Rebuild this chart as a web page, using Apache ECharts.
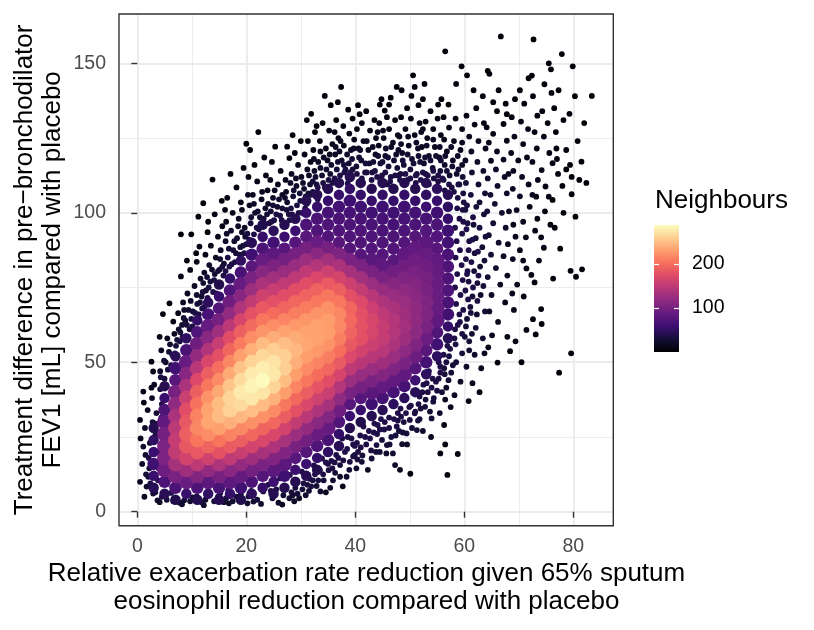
<!DOCTYPE html>
<html><head><meta charset="utf-8">
<script src="https://cdn.jsdelivr.net/npm/echarts/dist/echarts.min.js"></script>
<style>html,body{margin:0;padding:0;background:#fff}#chart{width:814px;height:630px}</style>
</head><body><div id="chart"></div>
<script>
// ---- axes / legend values ----
const xTicks = [0, 20, 40, 60, 80];
const yTicks = [0, 50, 100, 150];
const xRange = [-3.36, 87.34];
const yRange = [-4.68, 166.5];
const neighbourRange = [0, 288];
const legendTicks = [100, 200];
const xTitle = 'Relative exacerbation rate reduction given 65% sputum\neosinophil reduction compared with placebo';
const yTitle = 'Treatment difference in pre\u2212bronchodilator\nFEV1 [mL] compared with placebo';
const legendTitle = 'Neighbours';
const magma = ['#000004','#140e36','#3b0f70','#641a80','#8c2981','#b73779','#de4968','#f7705c','#fe9f6d','#fecf92','#fcfdbf'];

// ---- points: [reduction %, FEV1 mL, neighbours] ----
const coreLeft = [
[3,8,44],[3,12,57],[3,16,60],[3,20,57],[3,24,50],[3,28,41],
[5,6,45],[5,10,70],[5,14,93],[5,18,104],[5,22,103],[5,26,97],[5,30,85],[5,34,71],[5,38,56],[5,42,42],
[7,4,40],[7,8,69],[7,12,102],[7,16,133],[7,20,152],[7,24,154],[7,28,147],[7,32,135],[7,36,118],[7,40,99],[7,44,79],[7,48,61],[7,52,45],
[9,6,56],[9,10,89],[9,14,128],[9,18,165],[9,22,184],[9,26,190],[9,30,184],[9,34,176],[9,38,158],[9,42,136],[9,46,112],[9,50,89],[9,54,68],[9,58,50],
[11,4,41],[11,8,70],[11,12,107],[11,16,149],[11,20,183],[11,24,205],[11,28,216],[11,32,212],[11,36,203],[11,40,189],[11,44,171],[11,48,145],[11,52,119],[11,56,94],[11,60,72],[11,64,53],
[13,6,50],[13,10,81],[13,14,119],[13,18,161],[13,22,193],[13,26,220],[13,30,234],[13,34,233],[13,38,223],[13,42,205],[13,46,189],[13,50,168],[13,54,140],[13,58,113],[13,62,88],[13,66,66],[13,70,48],
[15,4,43],[15,8,67],[15,12,99],[15,16,137],[15,20,178],[15,24,204],[15,28,231],[15,32,248],[15,36,247],[15,40,236],[15,44,219],[15,48,200],[15,52,178],[15,56,155],[15,60,127],[15,64,99],[15,68,75],[15,72,56],[15,76,40],
[17,6,54],[17,10,81],[17,14,114],[17,18,150],[17,22,185],[17,26,213],[17,30,240],[17,34,261],[17,38,263],[17,42,253],[17,46,237],[17,50,216],[17,54,195],[17,58,176],[17,62,147],[17,66,120],[17,70,94],[17,74,72],[17,78,54]
];
const coreCentre = [
[19,4,40],[19,8,61],[19,12,87],[19,16,119],[19,20,156],[19,24,188],[19,28,216],[19,32,245],[19,36,267],[19,40,276],[19,44,267],[19,48,252],[19,52,231],[19,56,209],[19,60,190],[19,64,167],[19,68,138],[19,72,112],[19,76,88],[19,80,67],[19,84,50],
[21,6,47],[21,10,69],[21,14,97],[21,18,128],[21,22,164],[21,26,195],[21,30,221],[21,34,249],[21,38,274],[21,42,282],[21,46,276],[21,50,262],[21,54,240],[21,58,219],[21,62,197],[21,66,179],[21,70,152],[21,74,125],[21,78,101],[21,82,79],[21,86,60],[21,90,45],
[23,8,53],[23,12,75],[23,16,102],[23,20,133],[23,24,168],[23,28,193],[23,32,221],[23,36,248],[23,40,273],[23,44,286],[23,48,278],[23,52,265],[23,56,247],[23,60,224],[23,64,205],[23,68,184],[23,72,162],[23,76,136],[23,80,111],[23,84,89],[23,88,70],[23,92,53],[23,96,40],
[25,6,42],[25,10,59],[25,14,81],[25,18,107],[25,22,137],[25,26,169],[25,30,195],[25,34,218],[25,38,241],[25,42,262],[25,46,274],[25,50,272],[25,54,259],[25,58,239],[25,62,220],[25,66,199],[25,70,177],[25,74,155],[25,78,129],[25,82,104],[25,86,82],[25,90,63],[25,94,47],
[27,8,43],[27,12,60],[27,16,80],[27,20,106],[27,24,133],[27,28,163],[27,32,187],[27,36,206],[27,40,229],[27,44,247],[27,48,259],[27,52,259],[27,56,249],[27,60,232],[27,64,214],[27,68,193],[27,72,176],[27,76,150],[27,80,123],[27,84,98],[27,88,77],[27,92,58],[27,96,42],
[29,10,43],[29,14,58],[29,18,78],[29,22,100],[29,26,125],[29,30,152],[29,34,178],[29,38,196],[29,42,214],[29,46,229],[29,50,240],[29,54,245],[29,58,238],[29,62,227],[29,66,210],[29,70,195],[29,74,176],[29,78,149],[29,82,123],[29,86,99],[29,90,77],[29,94,58],[29,98,43],
[31,12,43],[31,16,58],[31,20,76],[31,24,96],[31,28,119],[31,32,145],[31,36,169],[31,40,188],[31,44,205],[31,48,219],[31,52,230],[31,56,235],[31,60,233],[31,64,224],[31,68,209],[31,72,192],[31,76,176],[31,80,151],[31,84,125],[31,88,99],[31,92,78],[31,96,70],[31,100,55],[31,104,42],
[33,14,40],[33,18,53],[33,22,71],[33,26,90],[33,30,113],[33,34,137],[33,38,161],[33,42,181],[33,46,199],[33,50,213],[33,54,226],[33,58,232],[33,62,232],[33,66,223],[33,70,207],[33,74,192],[33,78,170],[33,82,142],[33,86,114],[33,90,89],[33,94,72],[33,98,68],[33,102,55],[33,106,42]
];
const coreRight = [
[35,20,51],[35,24,68],[35,28,87],[35,32,109],[35,36,133],[35,40,157],[35,44,176],[35,48,195],[35,52,210],[35,56,223],[35,60,230],[35,64,230],[35,68,222],[35,72,206],[35,76,185],[35,80,160],[35,84,129],[35,88,99],[35,92,73],[35,96,71],[35,100,66],[35,104,55],[35,108,42],
[37,22,44],[37,26,54],[37,30,72],[37,34,94],[37,38,117],[37,42,142],[37,46,167],[37,50,186],[37,54,201],[37,58,211],[37,62,217],[37,66,216],[37,70,206],[37,74,189],[37,78,166],[37,82,136],[37,86,105],[37,90,78],[37,94,73],[37,98,69],[37,102,64],[37,106,55],[37,110,42],
[39,28,41],[39,32,57],[39,36,77],[39,40,100],[39,44,124],[39,48,149],[39,52,171],[39,56,184],[39,60,192],[39,64,196],[39,68,194],[39,72,178],[39,76,159],[39,80,132],[39,84,102],[39,88,76],[39,92,72],[39,96,70],[39,100,66],[39,104,60],[39,108,52],[39,112,42],
[41,30,40],[41,34,56],[41,38,75],[41,42,98],[41,46,121],[41,50,144],[41,54,163],[41,58,178],[41,62,179],[41,66,178],[41,70,172],[41,74,153],[41,78,129],[41,82,102],[41,86,77],[41,90,73],[41,94,71],[41,98,67],[41,102,62],[41,106,54],[41,110,42],
[43,32,42],[43,36,60],[43,40,80],[43,44,102],[43,48,124],[43,52,144],[43,56,159],[43,60,167],[43,64,167],[43,68,159],[43,72,144],[43,76,124],[43,80,102],[43,84,80],[43,88,74],[43,92,71],[43,96,68],[43,100,63],[43,104,55],[43,108,42],
[45,34,46],[45,38,65],[45,42,86],[45,46,108],[45,50,128],[45,54,144],[45,58,153],[45,62,154],[45,66,149],[45,70,137],[45,74,121],[45,78,102],[45,82,82],[45,86,75],[45,90,72],[45,94,69],[45,98,66],[45,102,60],[45,106,53],[45,110,42],
[47,36,48],[47,40,66],[47,44,86],[47,48,106],[47,52,124],[47,56,136],[47,60,142],[47,64,141],[47,68,134],[47,72,124],[47,76,110],[47,80,95],[47,84,78],[47,88,73],[47,92,70],[47,96,66],[47,100,61],[47,104,54],[47,108,42],
[49,38,48],[49,42,65],[49,46,84],[49,50,101],[49,54,116],[49,58,126],[49,62,130],[49,66,128],[49,70,124],[49,74,116],[49,78,106],[49,82,94],[49,86,82],[49,90,74],[49,94,70],[49,98,66],[49,102,61],[49,106,53],[49,110,42],
[51,40,44],[51,44,59],[51,48,76],[51,52,92],[51,56,106],[51,60,115],[51,64,118],[51,68,117],[51,72,114],[51,76,109],[51,80,102],[51,84,94],[51,88,86],[51,92,76],[51,96,69],[51,100,64],[51,104,54],[51,108,42],
[53,46,49],[53,50,64],[53,54,79],[53,58,91],[53,62,101],[53,66,105],[53,70,105],[53,74,102],[53,78,99],[53,82,94],[53,86,88],[53,90,81],[53,94,74],[53,98,67],[53,102,58],[53,106,50],[53,110,43],
[55,52,49],[55,56,61],[55,60,72],[55,64,82],[55,68,88],[55,72,90],[55,76,89],[55,80,87],[55,84,84],[55,88,79],[55,92,74],[55,96,70],[55,100,61],[55,104,55],[55,108,48],
[57,58,44],[57,62,53],[57,66,62],[57,70,68],[57,74,72],[57,78,72],[57,82,71],[57,86,68],[57,90,64],[57,94,60],[57,98,55],[57,102,49],[57,106,44]
];
const fringeLeft = [
[0.5,30.7,14],[1.1,40.2,10],[2.9,46.9,12],[2.6,50.2,8],[1.4,28,20],[2.3,23,26],[0.5,10,18],[2.9,6.1,28],[1.7,8.4,24],[2,11.7,28],[1.1,21.8,24],[0.9,16,20],[2.2,14.5,30],[3.3,6.5,33],[1.3,5,16],[1.9,34,16],[2.7,38,18],[3.5,33,26],[3.1,42.5,16],[0.6,24.5,14],[2.8,30,30],[1.5,19,26],[3.7,3.8,24],[1.2,36.5,12],
[4.7,66.1,6],[5.9,69.7,6],[6.6,63.6,10],[7.5,66.4,10],[4.2,47,24],[5.2,50,22],[4.4,54,16],[6,56,24],[6.8,59.5,18],[7.6,61,22],[5,44.5,32],[6.2,49,34],[7.1,55.5,32],[5.5,58,14],[4.1,58.5,10],[7.8,57,34],[4.5,5,32],[5.4,4,30],[6.6,3.5,28],[7.8,3,26],[4.1,3.2,20],
[8,92.8,4],[9.9,92.8,4],[11.2,98.7,4],[12.1,103.2,4],[8,78.7,8],[9.7,80.9,10],[10.9,83.6,10],[11.4,88.7,8],[8.4,70,18],[9.2,73,16],[10.5,75.5,18],[11.6,78,20],[8.8,64,30],[9.6,61,34],[10.2,67,28],[11,69.5,30],[11.8,72,26],[8.2,62.5,26],[9.9,64.5,34],[11.3,66,36],[8.6,67.5,22],[10.8,86.5,6],[9.1,84,6],[9.7,3.5,26],[10.9,5.1,30],[8.6,3.8,28],[11.8,3.2,26],
[13,97,5],[12.9,93.5,6],[13.8,111.1,3],[15.5,104,5],[14.2,99.5,8],[12.5,86,12],[13.5,89,10],[14.8,92,12],[15.6,95.5,10],[12.3,80,20],[13.2,82.5,22],[14.4,85,18],[15.3,87.5,20],[12.6,74,30],[13.4,77,32],[14.2,79.5,28],[15.1,81,30],[15.9,83,26],[12.1,76.5,26],[14.7,76,36],[13.9,73.5,38],[15.8,79,36],[12.9,71.5,36],[13,6.2,32],[15.2,6.2,32],[14.1,3.5,28],[12.5,4,26],[15.9,3.2,24],
[2.4,9.5,34],[3.8,10.5,38],[2.1,18,34],[3.9,26.5,36],[4.4,31.5,36],[4.5,36,34],[3.3,25.5,32],[4.2,41,30],[2.6,41.5,16],[3.4,29.5,34],[1.6,12.5,30],[3.9,14.5,38],[4.1,20,38],[2.8,16,36],
[4.3,45,36],[5.6,47.5,34],[6.4,52.5,36],[7.3,57.5,30],[4.9,50.5,28],[6.9,53,38],[5.8,53.5,26],[7.9,60,28],
[8.3,58.5,36],[9.1,62.5,32],[10.1,62,38],[10.6,66.5,34],[11.5,70,30],[9.4,67.5,28],[8.5,64.8,30],[10.9,72.5,24],[11.9,68,38],[9.8,70.5,22],
[12.3,68.5,38],[13.1,75,34],[14.1,77.5,34],[14.8,80.5,30],[15.6,82,32],[12.8,78.5,28],[13.7,81,24],[15.2,84.5,26],[12,73.5,32],[14.5,73,38],
[8.2,2.5,24],[12.2,2.2,22],[16.8,2.8,24],[22.7,2.6,22],[26.6,2.4,18],[14.8,5,34],[18.2,5,34],[10.2,4.8,32],[6.2,6.3,36],[24.5,7,32]
];
const fringeCentre = [
[17.1,113,3],[19.5,115,4],[18.2,108.5,6],[16.5,105,8],[19,103.5,10],[17.5,100,12],[16.3,97,14],[18.6,98,16],[19.7,95,18],[17.2,94,22],[16.2,90.5,24],[18.3,91.5,24],[19.4,89,28],[17.6,87.5,30],[16.6,85,34],[18.8,86,34],[19.8,92,22],[16.9,82,38],[17.9,83.5,36],[19.2,101,12],[16.1,101,10],[16.7,7.3,34],[18.5,8.4,34],[20.2,2.8,24],[20.4,5.1,30],[17.5,3.5,26],[19,5.8,30],[16.3,4.5,28],
[16.2,80.5,38],[17.3,82.8,36],[18.1,86.5,32],[18.9,88.5,30],[19.6,86.5,36],[16.8,88,28],[17.8,90.5,26],[19.2,93.5,24],[16.4,93,20],[18.5,95.5,20],[20,89.5,34],
[22.2,127,3],[20,123.1,4],[20.7,121,4],[21.5,116,6],[23.3,118.5,6],[20.4,112,10],[22,110.5,10],[23.6,112.5,10],[21.2,106,14],[22.8,104.5,16],[20.6,102.5,18],[23.9,107.5,14],[21.6,100,24],[22.5,98.5,28],[20.8,96.5,30],[23.5,101.5,22],[20.2,93,34],[21.9,95,36],[23.2,98,34],[24,103,20],[23.1,6.8,36],[22,4,30],[24,9,36],[21.3,3.4,26],[20.9,7,32],
[20.5,91,36],[21.4,92.8,36],[22.3,94.5,34],[23.1,95.5,36],[20.9,98.5,28],[22.1,100.5,26],[23.8,99.5,30],[21.4,103,20],[22.9,107,16],[20.3,106,16],[24.2,96.5,36],
[25.3,122.1,4],[27.5,122.1,4],[27.9,118.3,6],[24.7,117,6],[26.3,114,10],[24.4,111,12],[25.8,109.5,14],[27.2,111,12],[26.6,106,18],[24.9,105,20],[25.7,102,26],[27.5,103.5,24],[24.5,100.5,30],[26.2,99,34],[27.8,99.5,32],[26.9,96,38],[25.1,97.5,36],[27.3,107,16],[26.2,11.2,36],[25.5,7.5,34],[27.2,8,34],[24.8,4.5,28],[26.8,5.5,28],[25.9,3,22],[27.9,4.5,26],
[24.6,97,36],[25.5,99.5,34],[26.5,97.5,38],[27.4,101,30],[24.9,102.5,28],[26,104.5,24],[27.1,105,22],[25.2,107.5,18],[27.9,97.5,36],[26.6,101.5,30],
[31.9,133.1,3],[31.1,131,4],[32.9,129,5],[28.5,126,5],[30,124,6],[31.3,124,6],[28.9,120,8],[30.7,119.5,10],[29.5,116,12],[31.8,117,12],[28.3,113,16],[30.1,112,16],[31.5,112.5,18],[29.2,109,22],[30.6,108,24],[28.6,105.5,28],[29.9,104,32],[31.4,106.5,28],[28.2,101.5,34],[30.8,101.5,34],[29.6,100,36],[31.7,109.5,24],[28,12.3,36],[30.2,13.4,36],[29,8,32],[28.5,5.5,26],[30.5,9.5,34],[31.5,7,28],[29.7,4.5,20],[31.6,11,34],
[28.4,99.5,38],[29.3,102.5,34],[30.2,100,38],[31.1,103,36],[28.7,107.5,26],[29.8,106.5,28],[30.9,105.5,32],[31.9,106,34],[29.1,111.5,20],[30.4,110,22],[31.2,114.5,18],[28.1,110,22],
[28.3,6.5,30],[29.4,6,30],[30.3,7.5,32],[31.2,9,34],[30.9,5.5,24],[28.8,3.5,20],[31.9,8.5,34],
[34.4,139.1,3],[35.5,136,4],[32.6,127,5],[34,130,6],[33.5,124,8],[35.2,127.5,8],[32.3,121,10],[34.6,121.5,12],[35.8,123,12],[33.2,117,16],[34.9,117.5,18],[32.5,114,22],[33.9,112.5,26],[35.4,113,26],[32.9,109.5,32],[34.4,108.5,34],[35.8,110,34],[32.2,110.5,30],[33.6,120.5,14],[32.9,8.6,28],[33.5,13.9,34],[35.1,13.9,34],[34.2,10.5,30],[35.6,17,36],[32.4,15.5,38],[33.9,17.8,38],[35.9,10.5,26],[34.6,6.5,14],
[32.2,107,36],[33.1,108.5,36],[34.1,110,34],[35.1,111,34],[32.7,112,28],[33.6,115,24],[34.7,114.5,28],[35.6,116,24],[32.4,118,18],[34.2,118.5,20],[35.3,119.5,16],[33.1,104.5,38],
[32.2,10.5,34],[33.2,10.5,34],[34.1,12.5,36],[35,16,38],[35.8,14.5,36],[34.6,16.5,38],[32.6,12.5,36],[33.6,6.8,24],[35.4,8,22],
[37.4,142.1,3],[36.8,137,4],[38.7,134.5,5],[39.5,131.5,6],[36.5,131,6],[37.8,129,8],[38.9,126.5,10],[36.9,125,10],[37.9,122.5,14],[39.2,121,16],[36.3,119.5,18],[37.5,117.5,24],[38.8,116.5,26],[36.6,114.5,30],[38,113.5,34],[39.5,114.5,32],[37.1,120.5,20],[39.8,124.5,12],[36.2,127,8],[37.2,11.7,24],[38.4,11.7,24],[37.2,15.6,32],[39,16.7,34],[36.5,19,36],[38.1,20,38],[39.6,22.5,38],[36.9,22.5,38],[38.6,25,38],[39.9,19,34],[37.7,8.5,14],
[36.2,111.5,36],[37.2,112.5,36],[38.2,114.5,34],[39.1,113.5,36],[36.8,117,28],[37.9,116,30],[39.4,118,28],[36.4,122,20],[38.5,119.5,22],[39.7,121.5,18],[37.3,124,16],[38.6,109.8,38],
[36.2,16.5,36],[36.9,18,38],[37.8,17.2,36],[38.5,21,38],[39.3,24.5,38],[39.9,22,38],[37.6,24.5,38],[36.3,13,30],[38.9,14,28],[39.6,18.5,34],
[40.5,136,4],[42,134,5],[43.5,131,6],[41.2,130,8],[40.3,128,8],[42.7,127.5,10],[43.8,125,12],[41.5,124,14],[40.6,121.5,16],[42.4,121,18],[43.7,119.5,20],[41.1,117.5,26],[42.6,116.5,28],[40.2,115.5,30],[43.6,114,32],[41.8,113.5,34],[43,111,36],[40.8,133,6],[41.2,16.7,30],[43,17.8,30],[43.9,22.3,34],[40.5,20,36],[42,22.5,36],[40.9,25.5,38],[42.5,27,38],[44,26,36],[41.5,28.5,38],[43.5,29.5,38],[40.2,14.5,22],[42.3,14,16],
[40.3,113,36],[41.2,111.5,38],[42.1,113.5,34],[43.1,113.5,34],[44,112,36],[40.7,118.5,28],[41.9,116.5,30],[43.3,117,28],[40.9,121,22],[42.1,124,18],[43.2,122,20],[44.1,127,14],
[40.3,23,38],[41,21.5,36],[41.8,25,38],[42.7,24.5,38],[43.4,26.5,38],[44.1,29,38],[42.9,20.5,34],[41.3,18.8,32],[43.8,20,30],[40.4,17.5,30]
];
const fringeRight = [
[47.6,142.1,3],[46.5,138.5,4],[44.8,138,5],[44.5,136.2,4],[46.2,136.2,4],[45.4,134.2,5],[45.8,132,6],[47.3,131,8],[44.4,130,8],[46.2,128,10],[47.8,126,12],[45.2,125,12],[44.3,122.5,16],[46.6,122,18],[47.5,119.5,22],[45.5,119,22],[44.6,116.5,28],[46.1,115.5,30],[47.7,115,30],[44.9,112.5,36],[46.5,112,36],[47.9,112.5,34],[45.9,109.5,38],[45.8,22.3,30],[47.3,15.6,20],[48.2,14,14],[44.5,20,30],[46.6,25,34],[45.3,27.5,36],[47.6,28.5,36],[44.7,31,38],[46.2,31.5,38],[47.8,33,38],[48.6,22.6,24],[46.9,19.5,26],
[44.6,111,38],[45.5,113.5,36],[46.4,110.5,38],[47.3,112.5,36],[45,117,30],[46,118.5,28],[47.1,117.5,28],[44.2,119,26],[45.6,121.5,22],[46.9,123.5,18],[47.9,121,20],[45.1,127.5,14],
[44.5,27.5,36],[45.4,30,38],[46.2,28,36],[47.1,31,38],[47.8,30.5,36],[44.9,24,32],[46.3,22.5,30],[47.4,25.5,32],[45.7,19.5,24],[48,27,30],
[50.6,146,3],[48.5,141,4],[50.9,142.1,4],[50.3,139.1,5],[49.5,135,6],[51.6,136,6],[48.4,132,8],[50.2,131.5,10],[51.8,130,10],[49.2,128,12],[48.1,125.5,14],[50.9,126,14],[49.8,122.5,18],[51.5,121.5,20],[48.6,120,22],[50.4,118,26],[51.9,117,26],[48.9,116,30],[50.1,114.5,32],[51.3,113,34],[48.3,113,34],[49.6,111,38],[51.1,110,38],[49.4,26.2,30],[51.3,27.3,30],[50,30.7,34],[50.9,32.9,34],[50.1,12.7,6],[48.9,30,34],[49.9,35,38],[51.6,36,38],[48.3,34.5,38],[51.8,31,32],
[48.2,111,38],[49.2,113,36],[50.1,111.5,38],[51.1,112.5,36],[52,111,38],[48.7,117.5,30],[49.6,119.5,26],[50.7,116.5,30],[51.6,119,26],[48.4,123,20],[49.7,125.5,16],[51.2,123.5,20],[52.1,127,14],
[48.4,31.8,36],[49.3,33,38],[50.2,35.5,38],[51,33.5,36],[51.8,38.5,38],[48.7,26.5,30],[50.4,28,30],[51.5,30.5,30],[49.5,22.5,22],[52,34.5,30],
[52.7,143.1,4],[55.8,138,4],[55.2,136.2,5],[52.4,138,5],[53.8,134,6],[55.1,131.5,8],[52.9,130.5,8],[54.3,128,10],[55.7,126,12],[53.2,125,12],[52.2,122,14],[54.6,122,16],[55.4,118.5,20],[53.5,119,20],[52.6,116.5,24],[54.2,115,26],[55.6,114,28],[52.9,113,32],[54.4,111.5,34],[53.5,109.5,38],[55.2,110.5,36],[54,31.2,30],[54.3,36.8,32],[52.8,35.1,32],[53.3,40,36],[55,40.5,34],[52.5,42.5,38],[54.2,44.5,38],[55.6,46.5,36],[53.5,47,38],[55.3,50,38],[52.4,27,22],[53.9,25,16],[55.5,33,24],[55.6,19.5,8],
[52.4,113.5,36],[53.3,112.5,38],[54.3,114,36],[55.2,112.5,36],[56,111.5,38],[52.8,118.5,30],[53.8,117.5,30],[54.8,119,26],[55.7,117.5,28],[53.1,122.5,22],[54.3,124.5,18],[55.5,122,20],[52.4,128,12],
[52.3,40,36],[53.1,43,38],[54,41.5,36],[54.8,43.5,36],[55.6,48.5,38],[52.9,37.5,32],[54.4,38,30],[55.3,44.5,34],[53.7,33.5,26],[55.9,40,28],[56.4,46,32],
[56.5,154,3],[59.5,149,3],[58.5,143.1,4],[57.1,136.2,5],[56.2,132,6],[58.4,131.5,6],[59.6,128,8],[57.2,128.5,8],[56.3,124.5,10],[58.1,124,12],[59.3,121,12],[56.8,120.5,14],[57.9,117.5,18],[59.6,116,18],[56.4,116,22],[58.6,113,24],[57.3,112.5,26],[59.1,109.5,30],[56.2,111,32],[57.7,108.5,34],[58.8,105,36],[59.7,101,34],[59.8,97,38],[56.5,22.5,6],[58.8,19.3,6],[56.9,12.3,4],[56.3,29,10],[57.5,35,14],[58.2,39,18],[56.7,41.5,22],[59.3,43.5,20],[57.6,46.5,28],[56.3,48,30],[58.5,50,30],[59.6,53,30],[57.2,52,34],[58.4,56,36],[59.6,59.5,34],[56.9,55.5,38],[59.2,63.5,36],[58.3,61,38],[59.8,67.5,38],
[56.4,107.5,38],[57.2,109.5,36],[58.1,107,36],[58.9,109.5,34],[59.8,106.5,34],[56.8,114,30],[57.8,115.5,26],[58.9,114.5,28],[59.7,112,30],[56.5,119,22],[57.6,122,18],[58.8,119,20],[59.6,123.5,16],
[56.7,50,34],[57.4,54.5,36],[56.2,52.5,36],[57.9,49,30],[57.1,44,26],[56.5,37.5,18],
[58.2,58,36],[58.8,62.5,36],[59.1,66,38],[58.5,69.5,38],[59.3,72.5,38],[58.3,75,38],[59.7,77.5,38],[58.7,79.5,38],[59.5,82.5,38],[58.4,85,38],[59.2,87.5,38],[58.6,90.5,38],[59.6,93,36],[58.3,95,38],[59.1,98,36],[58.7,101.5,36],[59.9,103.5,34]
];
const fringeFar = [
[60.6,96.5,34],[60.9,90.5,34],[60.3,84.5,36],[60.8,77,34],[60.2,74,36],[61.1,68.5,30],[60.5,64.5,30],[61.4,59.5,26],[60.9,54,24],[61.8,80.5,30],[62.1,91.5,28],[61.7,96,30],[62.9,82,26],[63,72.5,24],[62.3,66,24],[63.3,88.5,26],[62.8,103.5,26],[61.9,86.5,30],[60.1,58.5,30],[61.5,72,32],[60.6,80.5,36],[62.4,76.5,30],[60.2,101,34],
[61.7,141,4],[60.5,146,3],[63.4,139,5],[62.2,135,6],[60.4,132.5,8],[61.9,129.5,8],[63.6,130,8],[60.9,125.5,12],[62.6,124,12],[63.9,121.5,14],[61.3,120.5,16],[60.2,117.5,20],[62.4,117,20],[63.5,114,22],[61.4,113.5,26],[60.3,110,30],[62.6,109.5,28],[63.8,106.5,26],[61.2,106,32],[60.5,102.5,34],[62.2,102,32],[63.6,99.5,30],[61.6,98.5,36],[60.4,94.5,38],[62.8,95,34],[61.5,91,38],[63.9,92,30],[60.8,87.5,38],[62.5,87,36],[63.7,84,32],[61.3,83.5,38],[60.5,79.5,38],[62.6,79,36],[61.6,75,38],[63.5,75.5,32],[60.7,71,36],[62.4,70.5,34],[63.8,67,28],[61.2,66.5,34],[60.3,62,32],[62.1,61.5,28],[63.4,58,24],[60.9,57,28],[61.9,52.5,22],[60.4,48.5,20],[63.1,48,16],[61.5,43,14],[62.8,40,8],[60.8,37,10],[63.7,53,18],
[66.7,159,2],[64.3,147.5,3],[64.6,146.5,3],[66.3,141,4],[65.3,137,5],[67.6,136.5,5],[66,134,6],[67.8,133,6],[64.1,128.6,8],[67.2,129.7,8],[65.3,126.4,10],[67.8,124.1,10],[64.5,123.5,12],[66,120.5,14],[64.9,117.4,16],[67.2,117.8,16],[65.8,114.5,20],[64.3,111.5,22],[67.4,112,20],[66.1,109,24],[64.8,106,26],[67.8,106.5,22],[65.6,103,26],[64.2,100.5,28],[66.9,100,24],[65.3,96.5,26],[67.6,95,20],[64.5,92.5,28],[66.3,90,24],[64.9,86,28],[67.2,85.5,18],[65.8,81.5,22],[64.3,78.5,26],[66.6,76,18],[65,72.5,20],[67.5,70,14],[64.6,67,20],[66.2,63.5,14],[65.1,59,14],[67.9,58.5,10],[64.4,55,12],[66.1,49.9,6],[68.4,53.7,6],[67.9,79,14],[68,89.5,14],[68.2,100.5,16],[68.1,113,14],
[70.2,141,4],[71.8,145,3],[72.4,145.9,3],[69.3,138,5],[71,136.5,6],[68.7,132,8],[70.4,130.5,8],[71.7,128,10],[69.2,125.5,12],[70.8,123,12],[68.6,120,14],[69.9,117.5,14],[71.5,118.5,14],[69,114,16],[70.6,112,16],[71.8,109.5,14],[68.9,108,18],[70.2,105.5,18],[69.6,100.9,16],[72,102,12],[69,96,14],[70.8,97,14],[70.2,87.5,12],[70.8,84,12],[71.4,81.4,10],[71.3,91.8,12],[69.4,92,14],[68.9,84.5,16],[69.7,76,12],[70.9,72,10],[69.1,67.5,12],[71.4,60.8,8],[70.5,50,4],[69.4,57,8],[68.8,73,14],
[72.7,158,2],[74.7,143,4],[75.5,150,3],[74.3,134,5],[76,140.1,4],[72.6,139,5],[73.4,132.5,6],[75.3,130,6],[72.9,127,8],[74.6,125.5,8],[73.3,121.5,10],[75.6,120,10],[72.5,117,12],[74.2,114.3,12],[76.2,116.6,10],[73.2,105.4,10],[74.9,108.8,10],[75.5,105.4,10],[73.5,111,12],[72.5,106,12],[74.1,91.8,8],[74.6,88.3,8],[72.9,76.7,8],[72.3,79.2,8],[72.6,64.4,6],[73.1,59.3,6],[74.1,67.8,5],[74.2,62.8,5],[73.7,84,8],[75.8,96,6],[73.4,98,8],[74.8,100.5,8],[73,94,10],
[77.9,153.1,2],[75.9,148,2],[79.9,149,2],[77.3,141,3],[79.3,133.1,3],[76.8,127,4],[78.7,121,4],[81.5,117.1,3],[79.4,116,4],[79.7,112,4],[81.1,111,3],[82.4,110,3],[79.7,106.2,4],[80.4,98.7,3],[78,109,4],[76.2,104.3,5],[79.5,80.6,3],[81.6,81.1,3],[80.5,78.6,3],[76.3,78,4],[79.6,53,2],[77.4,46.5,2],[83.4,139.1,2],[80.3,139,2],[77.2,113,5],[76.6,95,5],[78.2,100,4],[77.6,88,4],[76.9,121.5,5],[78.2,131,4],[76.5,135,4],[82,130,2],[80.8,124,3],[77,118,5],[78.7,114.5,4]
];

// draw low-density points first, dense points on top
const points = [].concat(fringeFar, fringeRight, fringeCentre, fringeLeft, coreLeft, coreCentre, coreRight)
  .slice().sort((a, b) => a[2] - b[2]);

const FONT = '"Liberation Sans", Arial, Helvetica, sans-serif';
const chart = echarts.init(document.getElementById('chart'), null, {renderer: 'canvas'});

const axisCommon = {
  axisLine: {show: false},
  splitLine: {show: true, lineStyle: {color: '#EBEBEB', width: 1.8}},
  minorTick: {show: false, splitNumber: 2},
  minorSplitLine: {show: true, lineStyle: {color: '#EBEBEB', width: 0.9}}
};

chart.setOption({
  animation: false,
  backgroundColor: '#ffffff',
  grid: [
    {left: 119, top: 14, width: 494.3, height: 511.7},
    {left: 654, top: 225, width: 25, height: 127}
  ],
  xAxis: [
    Object.assign({
      type: 'value', gridIndex: 0, min: xRange[0], max: xRange[1], splitNumber: 5,
      axisTick: {show: true, length: 6, lineStyle: {color: '#333333', width: 1.4}, customValues: xTicks},
      axisLabel: {show: true, customValues: xTicks, color: '#4D4D4D', fontSize: 19.5, fontFamily: FONT, margin: 11}
    }, axisCommon),
    {type: 'category', gridIndex: 1, data: ['n'], show: false}
  ],
  yAxis: [
    Object.assign({
      type: 'value', gridIndex: 0, min: yRange[0], max: yRange[1], splitNumber: 4,
      axisTick: {show: true, length: 6, lineStyle: {color: '#333333', width: 1.4}, customValues: yTicks},
      axisLabel: {show: true, customValues: yTicks, color: '#4D4D4D', fontSize: 19.5, fontFamily: FONT, margin: 13}
    }, axisCommon),
    {
      type: 'value', gridIndex: 1, min: neighbourRange[0], max: neighbourRange[1], position: 'right', z: 5,
      axisLine: {show: false}, splitLine: {show: false},
      axisTick: {show: true, inside: true, length: 5, lineStyle: {color: '#ffffff', width: 1.2}, customValues: legendTicks},
      axisLabel: {show: true, customValues: legendTicks, color: '#000000', fontSize: 19.5, fontFamily: FONT, margin: 13}
    },
    {
      type: 'value', gridIndex: 1, min: neighbourRange[0], max: neighbourRange[1], position: 'left', z: 5,
      axisLine: {show: false}, splitLine: {show: false}, axisLabel: {show: false},
      axisTick: {show: true, inside: true, length: 5, lineStyle: {color: '#ffffff', width: 1.2}, customValues: legendTicks}
    }
  ],
  visualMap: {
    type: 'continuous', show: false, seriesIndex: 0, dimension: 2,
    min: neighbourRange[0], max: neighbourRange[1], inRange: {color: magma}
  },
  series: [
    {
      type: 'scatter', xAxisIndex: 0, yAxisIndex: 0, data: points, symbol: 'circle',
      symbolSize: v => (v[2] < 40 ? 5.8 : (v[2] < 60 ? 10.5 : (v[2] < 80 ? 12.5 : 15))),
      large: false, progressive: 0, silent: true, itemStyle: {opacity: 1}
    },
    {
      type: 'bar', xAxisIndex: 1, yAxisIndex: 1, data: [neighbourRange[1]], barWidth: '100%', z: 1, silent: true,
      itemStyle: {color: new echarts.graphic.LinearGradient(0, 1, 0, 0,
        magma.map((c, i) => ({offset: i / (magma.length - 1), color: c})))}
    }
  ],
  graphic: [
    {type: 'rect', z: 100, silent: true, shape: {x: 119, y: 14, width: 494.3, height: 511.7},
     style: {fill: 'transparent', stroke: '#333333', lineWidth: 1.4}},
    {type: 'text', z: 100, x: 366.5, y: 587.5, silent: true,
     style: {text: xTitle, fontSize: 26, fontFamily: FONT, fill: '#000000', align: 'center', verticalAlign: 'middle', lineHeight: 28.3}},
    {type: 'text', z: 100, x: 39, y: 269.9, rotation: Math.PI / 2, silent: true,
     style: {text: yTitle, fontSize: 26, fontFamily: FONT, fill: '#000000', align: 'center', verticalAlign: 'middle', lineHeight: 28.3}},
    {type: 'text', z: 100, x: 655, y: 201, silent: true,
     style: {text: legendTitle, fontSize: 26, fontFamily: FONT, fill: '#000000', align: 'left', verticalAlign: 'middle'}}
  ]
});
</script></body></html>
